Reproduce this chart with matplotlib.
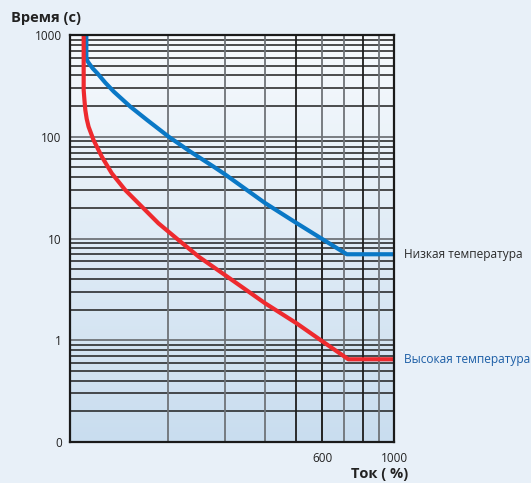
import numpy as np
import matplotlib
matplotlib.use("Agg")
import matplotlib.pyplot as plt
from matplotlib.colors import LinearSegmentedColormap
from matplotlib.ticker import NullFormatter, FixedLocator
import matplotlib.transforms as mtransforms

# ---- data ----
low_x = [112.3, 112.3, 113.2, 114.4, 117.5, 121.4, 128.5, 136.6, 153.7, 173, 201.7, 235.3, 277.5, 300, 400, 500, 600, 715, 1000]
low_y = [1000, 600, 555, 527, 470, 421, 340, 277, 197, 146, 100, 71.3, 50.8, 43, 22.3, 14.2, 9.9, 7.0, 7.0]

high_x = [110.2, 110.2, 110.8, 111.5, 112.6, 114.1, 118.2, 125.4, 134.6, 148, 166.5, 187.5, 216.1, 250, 300, 400, 500, 600, 723, 1000]
high_y = [1000, 288, 230, 183, 150, 125.6, 92.9, 63.6, 43.7, 30, 20.6, 14.1, 9.67, 6.6, 4.4, 2.31, 1.47, 0.98, 0.65, 0.65]

x_ticks = [600, 1000]
x_ticklabels = ["600", "1000"]
y_ticks = [0.1, 1, 10, 100, 1000]
y_ticklabels = ["0", "1", "10", "100", "1000"]

low_label = "Низкая температура"
high_label = "Высокая температура"
title_y = "Время (с)"
title_x = "Ток ( %)"

# ---- figure ----
W, H = 531, 483
fig = plt.figure(figsize=(W / 100, H / 100), dpi=100)
fig.patch.set_facecolor("#e8f0f8")
plt.rcParams['font.family'] = ['Open Sans', 'DejaVu Sans']

L, R, T, B = 70, 394, 35, 442
ax = fig.add_axes([L / W, 1 - B / H, (R - L) / W, (B - T) / H])
ax.set_xscale("log")
ax.set_yscale("log")
ax.set_xlim(100, 1000)
ax.set_ylim(0.1, 1000)

# gradient background (light at top, blue at bottom)
cmap = LinearSegmentedColormap.from_list("bg", ["#f7fafd", "#c9ddef"])
grad = np.linspace(0, 1, 256).reshape(-1, 1)
ax.imshow(grad, extent=[0, 1, 0, 1], origin="upper", transform=ax.transAxes,
          aspect="auto", cmap=cmap, zorder=0)
ax.set_facecolor("none")

# grid
ax.yaxis.set_major_locator(FixedLocator(y_ticks))
ax.grid(False)
for yv in [1, 10, 100]:
    ax.axhline(yv, color="#6f7378", lw=1.3, zorder=1)
for dec in [0.1, 1, 10, 100]:
    for s in range(2, 10):
        ax.axhline(dec * s, color="#1e1e1e", lw=1.1, zorder=1)
for s in range(2, 10):
    xv = 100 * s
    col = "#1e1e1e" if xv in (500, 800) else "#6f7378"
    ax.axvline(xv, color=col, lw=1.3, zorder=1)
ax.axvline(600, ymin=0, ymax=0.5, color="#1e1e1e", lw=1.3, zorder=1)

# curves
ax.plot(low_x, low_y, color="#0a78c6", lw=3.0, solid_joinstyle="round", zorder=3)
ax.plot(high_x, high_y, color="#ee2a2e", lw=3.0, solid_joinstyle="round", zorder=3)

# ticks
ax.set_xticks(x_ticks)
ax.set_xticklabels(x_ticklabels)
ax.xaxis.set_minor_formatter(NullFormatter())
ax.set_yticks(y_ticks)
ax.set_yticklabels(y_ticklabels)
ax.yaxis.set_minor_formatter(NullFormatter())
ax.tick_params(which="both", length=0)
ax.tick_params(axis="y", pad=6, labelsize=8.5, labelcolor="#222222")
ax.tick_params(axis="x", pad=7, labelsize=8.5, labelcolor="#222222")

for sp in ax.spines.values():
    sp.set_color("#1a1a1a")
    sp.set_linewidth(1.6)
    sp.set_zorder(4)

# labels at right
trans = mtransforms.blended_transform_factory(ax.transAxes, ax.transData)
ax.text(1.031, low_y[-1], low_label, transform=trans, va="center", ha="left",
        fontsize=8.6, color="#2b2b2b", clip_on=False)
ax.text(1.031, high_y[-1], high_label, transform=trans, va="center", ha="left",
        fontsize=8.6, color="#1c5ea6", clip_on=False)

fig.text(11 / W, 1 - 18 / H, title_y, ha="left", va="center", fontsize=10.5,
         fontweight="bold", color="#222222")
fig.text(351 / W, 1 - 474 / H, title_x, ha="left", va="center", fontsize=10.5,
         fontweight="bold", color="#222222")

fig.savefig("out.png", dpi=100, facecolor=fig.get_facecolor())
